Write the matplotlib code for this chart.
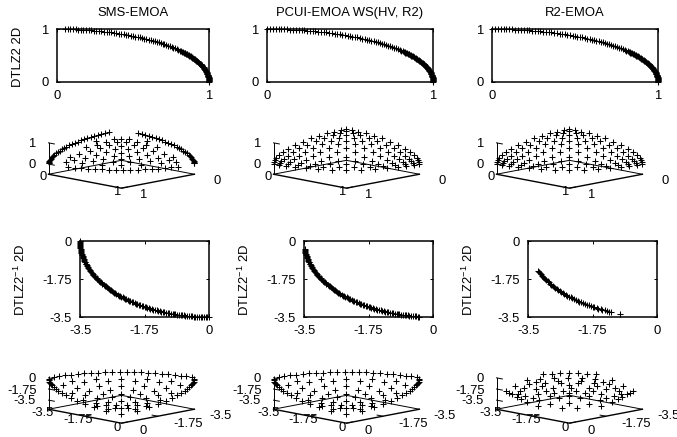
#!/usr/bin/env python3
"""Pareto front approximations of SMS-EMOA, PCUI-EMOA and R2-EMOA on DTLZ2 and DTLZ2^-1."""

import matplotlib
matplotlib.use("Agg")
import matplotlib.pyplot as plt

plt.rcParams["font.family"] = ["Liberation Sans", "DejaVu Sans"]
plt.rcParams["mathtext.fontset"] = "custom"
plt.rcParams["mathtext.rm"] = "Liberation Sans"
plt.rcParams["mathtext.default"] = "regular"
plt.rcParams["axes.unicode_minus"] = False

titles = ["SMS-EMOA", "PCUI-EMOA WS(HV, R2)", "R2-EMOA"]

# DTLZ2 2D front
dtlz2_x = [0.0, .017, .035, .052, .070, .087, .105, .122, .139, .156, .174, .191, .208, .225, .242, .259,
           .276, .292, .309, .326, .342, .358, .375, .391, .407, .423, .438, .454, .469, .485, .500, .515,
           .530, .545, .559, .574, .588, .602, .616, .629, .643, .656, .669, .682, .695, .707, .719, .731,
           .743, .755, .766, .777, .788, .799, .809, .819, .829, .839, .848, .857, .866, .875, .883, .891,
           .899, .906, .914, .921, .927, .934, .940, .946, .951, .956, .961, .966, .970, .974, .978, .982,
           .985, .988, .990, .993, .995, .996, .998, .999, .999, 1.0, 1.0]
dtlz2_y = [1.0, 1.0, .999, .999, .998, .996, .995, .993, .990, .988, .985, .982, .978, .974, .970, .966,
           .961, .956, .951, .946, .940, .934, .927, .921, .914, .906, .899, .891, .883, .875, .866, .857,
           .848, .839, .829, .819, .809, .799, .788, .777, .766, .755, .743, .731, .719, .707, .695, .682,
           .669, .656, .643, .629, .616, .602, .588, .574, .559, .545, .530, .515, .500, .485, .469, .454,
           .438, .423, .407, .391, .375, .358, .342, .326, .309, .292, .276, .259, .242, .225, .208, .191,
           .174, .156, .139, .122, .105, .087, .070, .052, .035, .017, 0.0]
# the crowded end of the same front
dtlz2_end_x = [.824, .834, .843, .853, .862, .870, .879, .887, .895, .903, .910, .917, .924, .930, .937, .943,
               .948, .954, .959, .964, .968, .972, .976, .980, .983, .986, .989, .991, .994, .995, .997, .998,
               .999, 1.0, 1.0]
dtlz2_end_y = [.566, .552, .537, .522, .508, .492, .477, .462, .446, .431, .415, .399, .383, .367, .350, .334,
               .317, .301, .284, .267, .250, .233, .216, .199, .182, .165, .148, .131, .113, .096, .078, .061,
               .044, .026, .009]

# DTLZ2^-1 2D front
inv_x = [-3.50, -3.50, -3.50, -3.49, -3.48, -3.47, -3.46, -3.44, -3.42, -3.40, -3.38, -3.36, -3.33, -3.30,
         -3.27, -3.23, -3.20, -3.16, -3.12, -3.08, -3.03, -2.98, -2.94, -2.89, -2.83, -2.78, -2.72, -2.66,
         -2.60, -2.54, -2.47, -2.41, -2.34, -2.27, -2.20, -2.13, -2.06, -1.98, -1.91, -1.83, -1.75, -1.67,
         -1.59, -1.51, -1.42, -1.34, -1.25, -1.17, -1.08, -0.99, -0.91, -0.82, -0.73, -0.64, -0.55, -0.46,
         -0.37, -0.28, -0.18, -0.09, 0.0]
inv_y = [0.0, -0.09, -0.18, -0.28, -0.37, -0.46, -0.55, -0.64, -0.73, -0.82, -0.91, -0.99, -1.08, -1.17,
         -1.25, -1.34, -1.42, -1.51, -1.59, -1.67, -1.75, -1.83, -1.91, -1.98, -2.06, -2.13, -2.20, -2.27,
         -2.34, -2.41, -2.47, -2.54, -2.60, -2.66, -2.72, -2.78, -2.83, -2.89, -2.94, -2.98, -3.03, -3.08,
         -3.12, -3.16, -3.20, -3.23, -3.27, -3.30, -3.33, -3.36, -3.38, -3.40, -3.42, -3.44, -3.46, -3.47,
         -3.48, -3.49, -3.50, -3.50, -3.50]
inv_mid_x = [-3.50, -3.50, -3.49, -3.49, -3.48, -3.46, -3.45, -3.43, -3.41, -3.39, -3.37, -3.34, -3.31, -3.28,
             -3.25, -3.22, -3.18, -3.14, -3.10, -3.05, -3.01, -2.96, -2.91, -2.86, -2.80, -2.75, -2.69, -2.63,
             -2.57, -2.51, -2.44, -2.38, -2.31, -2.24, -2.17, -2.09, -2.02, -1.94, -1.87, -1.79, -1.71, -1.63,
             -1.55, -1.47, -1.38, -1.30, -1.21, -1.12, -1.04, -0.95, -0.86, -0.77, -0.68, -0.59, -0.50, -0.41,
             -0.32, -0.23, -0.14, -0.05]
inv_mid_y = [-0.05, -0.14, -0.23, -0.32, -0.41, -0.50, -0.59, -0.68, -0.77, -0.86, -0.95, -1.04, -1.12, -1.21,
             -1.30, -1.38, -1.47, -1.55, -1.63, -1.71, -1.79, -1.87, -1.94, -2.02, -2.09, -2.17, -2.24, -2.31,
             -2.38, -2.44, -2.51, -2.57, -2.63, -2.69, -2.75, -2.80, -2.86, -2.91, -2.96, -3.01, -3.05, -3.10,
             -3.14, -3.18, -3.22, -3.25, -3.28, -3.31, -3.34, -3.37, -3.39, -3.41, -3.43, -3.45, -3.46, -3.48,
             -3.49, -3.49, -3.50, -3.50]
r2_inv_x = [-3.22, -3.20, -3.17, -3.15, -3.12, -3.09, -3.06, -3.03, -3.00, -2.97, -2.94, -2.90, -2.87, -2.83,
            -2.80, -2.76, -2.72, -2.68, -2.64, -2.60, -2.56, -2.52, -2.47, -2.43, -2.39, -2.34, -2.30, -2.25,
            -2.20, -2.15, -2.11, -2.06, -2.01, -1.96, -1.91, -1.85, -1.80, -1.75, -1.70, -1.64, -1.59, -1.53,
            -1.48, -1.42, -1.37, -1.31, -1.25, -1.00]
r2_inv_y = [-1.37, -1.42, -1.48, -1.53, -1.59, -1.64, -1.70, -1.75, -1.80, -1.85, -1.91, -1.96, -2.01, -2.06,
            -2.11, -2.15, -2.20, -2.25, -2.30, -2.34, -2.39, -2.43, -2.47, -2.52, -2.56, -2.60, -2.64, -2.68,
            -2.72, -2.76, -2.80, -2.83, -2.87, -2.90, -2.94, -2.97, -3.00, -3.03, -3.06, -3.09, -3.12, -3.15,
            -3.17, -3.20, -3.22, -3.25, -3.27, -3.34]

# DTLZ2 3D, SMS-EMOA: two edge arcs, front arc, inner spokes
sms3_x = [0] * 28 + [
    .999, .998, .995, .990, .982, .970, .956, .940, .921, .899, .875, .848, .819, .788, .755, .719, .682, .643,
    .602, .559, .515, .469, .423, .375, .326, .276, .225,
    .978, .961, .940, .914, .883, .848, .809, .766, .719, .669, .616, .559, .500, .438, .375, .309, .242,
    .907, .811, .691, .547, .367, .847, .758, .646, .511, .343, .731, .653, .557, .441, .295,
    .571, .511, .436, .344, .231, .337, .288, .228, .957, .203, .894, .190,
    .914, .824, .679, .495, .840, .757, .624, .455, .728, .656, .542, .394,
    .611, .551, .455, .331, .446, .402, .332, .242, .262, .237, .195, .142]
sms3_y = [
    .999, .998, .995, .990, .982, .970, .956, .940, .921, .899, .875, .848, .819, .788, .755, .719, .682, .643,
    .602, .559, .515, .469, .423, .375, .326, .276, .225, .174] + [0] * 27 + [
    .208, .276, .342, .407, .469, .530, .588, .643, .695, .743, .788, .829, .866, .899, .927, .951, .970,
    .367, .547, .691, .811, .907, .343, .511, .646, .758, .847, .295, .441, .557, .653, .731,
    .231, .344, .436, .511, .571, .228, .288, .337, .203, .957, .190, .894,
    .262, .237, .195, .142, .446, .402, .332, .242, .611, .551, .455, .331,
    .728, .656, .542, .394, .840, .757, .624, .455, .914, .824, .679, .495]
sms3_z = [
    .035, .070, .105, .139, .191, .242, .292, .342, .391, .438, .485, .530, .574, .616, .656, .695, .731, .766,
    .799, .829, .857, .883, .906, .927, .946, .961, .974, .985,
    .035, .070, .105, .139, .191, .242, .292, .342, .391, .438, .485, .530, .574, .616, .656, .695, .731, .766,
    .799, .829, .857, .883, .906, .927, .946, .961, .974] + [0.0] * 17 + [
    .208, .208, .208, .208, .208, .407, .407, .407, .407, .407, .616, .616, .616, .616, .616,
    .788, .788, .788, .788, .788, .914, .914, .914, .208, .208, .407, .407] + [.309, .515, .707, .857] * 6

# DTLZ2 3D, PCUI-EMOA and R2-EMOA: regular grid over the sphere
grid3_x = [1.0, .997, .986, .965, .928, .874, .8, .707, .6, .486, .371, .263, .164, .077, 0.0,
           .997, .993, .980, .953, .909, .843, .755, .647, .527, .404, .286, .178, .083, 0.0,
           .986, .980, .962, .928, .873, .793, .688, .566, .436, .309, .192, .089, 0.0,
           .965, .953, .928, .883, .814, .717, .598, .465, .331, .206, .095, 0.0,
           .928, .909, .873, .814, .728, .615, .485, .349, .218, .101, 0.0,
           .874, .843, .793, .717, .615, .492, .359, .226, .105, 0.0,
           .8, .755, .688, .598, .485, .359, .229, .108, 0.0,
           .707, .647, .566, .465, .349, .226, .108, 0.0,
           .6, .527, .436, .331, .218, .105, 0.0,
           .486, .404, .309, .206, .101, 0.0,
           .371, .286, .192, .095, 0.0,
           .263, .178, .089, 0.0,
           .164, .083, 0.0,
           .077, 0.0,
           0.0]
grid3_y = [0.0, .077, .164, .263, .371, .486, .6, .707, .8, .874, .928, .965, .986, .997, 1.0,
           0.0, .083, .178, .286, .404, .527, .647, .755, .843, .909, .953, .980, .993, .997,
           0.0, .089, .192, .309, .436, .566, .688, .793, .873, .928, .962, .980, .986,
           0.0, .095, .206, .331, .465, .598, .717, .814, .883, .928, .953, .965,
           0.0, .101, .218, .349, .485, .615, .728, .814, .873, .909, .928,
           0.0, .105, .226, .359, .492, .615, .717, .793, .843, .874,
           0.0, .108, .229, .359, .485, .598, .688, .755, .8,
           0.0, .108, .226, .349, .465, .566, .647, .707,
           0.0, .105, .218, .331, .436, .527, .6,
           0.0, .101, .206, .309, .404, .486,
           0.0, .095, .192, .286, .371,
           0.0, .089, .178, .263,
           0.0, .083, .164,
           0.0, .077,
           0.0]
grid3_z = [0.0] * 15 + [.077, .083, .089, .095, .101, .105, .108, .108, .105, .101, .095, .089, .083, .077,
                        .164, .178, .192, .206, .218, .226, .229, .226, .218, .206, .192, .178, .164,
                        .263, .286, .309, .331, .349, .359, .359, .349, .331, .309, .286, .263,
                        .371, .404, .436, .465, .485, .492, .485, .465, .436, .404, .371,
                        .486, .527, .566, .598, .615, .615, .598, .566, .527, .486,
                        .6, .647, .688, .717, .728, .717, .688, .647, .6,
                        .707, .755, .793, .814, .814, .793, .755, .707,
                        .8, .843, .873, .883, .873, .843, .8,
                        .874, .909, .928, .928, .909, .874,
                        .928, .953, .962, .953, .928,
                        .965, .980, .980, .965,
                        .986, .993, .986,
                        .997, .997,
                        1.0]

# DTLZ2^-1 3D, SMS-EMOA and PCUI-EMOA: top arc, edge arcs, inner spokes
inv3_x = [-3.49, -3.47, -3.42, -3.36, -3.29, -3.20, -3.09, -2.97, -2.83, -2.68, -2.52, -2.34, -2.15, -1.96, -1.75,
          -1.53, -1.31, -1.08, -0.85, -0.61, -0.37, -0.12,
          -3.50, -3.48, -3.46, -3.42, -3.38, -3.33, -3.25, -3.15, -3.03, -2.87, -2.68, -2.43, -2.15, -1.75, -1.31, -0.73,
          0, 0, 0, 0, 0, 0, 0, 0, 0, 0, 0, 0, 0, 0, 0, 0, 0,
          -3.27, -2.93, -2.39, -1.69, -0.88, -2.93, -2.62, -2.14, -1.52, -0.79, -2.39, -2.14, -1.75, -1.24, -0.64,
          -1.69, -1.52, -1.24, -0.88, -0.46, -0.88, -0.78, -0.64, -0.45, -0.24,
          -3.26, -2.77, -2.13, -1.36, -3.05, -2.60, -1.99, -1.27, -2.63, -2.24, -1.72, -1.09,
          -1.98, -1.69, -1.29, -0.82, -1.23, -1.05, -0.81, -0.51, -0.46, -0.39, -0.30, -0.19]
inv3_y = [-0.24, -0.49, -0.73, -0.96, -1.20, -1.42, -1.64, -1.85, -2.06, -2.25, -2.43, -2.60, -2.76, -2.90, -3.03,
          -3.15, -3.25, -3.33, -3.40, -3.45, -3.48, -3.50,
          0, 0, 0, 0, 0, 0, 0, 0, 0, 0, 0, 0, 0, 0, 0, 0,
          -3.50, -3.48, -3.46, -3.42, -3.38, -3.33, -3.25, -3.15, -3.03, -2.87, -2.68, -2.43, -2.15, -1.75, -1.31, -0.73, 0.0,
          -0.88, -0.78, -0.64, -0.45, -0.24, -1.69, -1.52, -1.24, -0.88, -0.46, -2.39, -2.14, -1.75, -1.24, -0.64,
          -2.93, -2.62, -2.14, -1.52, -0.79, -3.27, -2.93, -2.39, -1.69, -0.88,
          -0.46, -0.39, -0.30, -0.19, -1.23, -1.05, -0.81, -0.51, -1.98, -1.69, -1.29, -0.82,
          -2.63, -2.24, -1.72, -1.09, -3.05, -2.60, -1.99, -1.27, -3.26, -2.77, -2.13, -1.36]
inv3_z = [0.0] * 22 + [
    -0.18, -0.37, -0.55, -0.73, -0.91, -1.08, -1.31, -1.53, -1.75, -2.01, -2.25, -2.52, -2.76, -3.03, -3.25, -3.42,
    -0.18, -0.37, -0.55, -0.73, -0.91, -1.08, -1.31, -1.53, -1.75, -2.01, -2.25, -2.52, -2.76, -3.03, -3.25, -3.42, -3.50,
    -0.91, -1.75, -2.47, -3.03, -3.38, -0.91, -1.75, -2.47, -3.03, -3.38, -0.91, -1.75, -2.47, -3.03, -3.38,
    -0.91, -1.75, -2.47, -3.03, -3.38, -0.91, -1.75, -2.47, -3.03, -3.38] + [-1.20, -2.11, -2.76, -3.22] * 6

# DTLZ2^-1 3D, R2-EMOA: central cloud with two short arms
r2inv3_x = [-3.03, -2.87, -2.68, -2.47, -2.25, -2.01, -1.75,
            -3.19, -3.00, -2.75, -2.45, -2.09, -1.70, -1.16,
            -3.15, -3.01, -2.77, -2.45, -2.06, -1.60, -1.09, -0.56,
            -2.90, -2.86, -2.69, -2.40, -2.01, -1.54, -0.99, -0.50, 0.0,
            -2.52, -2.50, -2.37, -2.11, -1.78, -1.37, -0.86, -0.35, 0.0,
            -2.06, -1.99, -1.69, -1.18, -0.53, 0.0,
            -1.53, -1.44, -1.08, -0.52, 0.0,
            -0.83, -0.48,
            -3.03, 0.0, -2.76, 0.0, -2.34, 0.0,
            -3.00, -2.61, -2.04, -1.40,
            -2.96, -2.73, -2.16, -1.39, -0.79,
            -2.71, -2.40, -2.08, -1.75, -1.28, -0.24,
            -2.25, -2.03, -1.63, -1.08, -0.48]
r2inv3_y = [-1.75, -2.01, -2.25, -2.47, -2.68, -2.87, -3.03,
            -1.16, -1.60, -2.00, -2.36, -2.68, -2.94, -3.19,
            -0.56, -1.09, -1.60, -2.06, -2.45, -2.77, -3.01, -3.15,
            0.0, -0.50, -1.09, -1.62, -2.09, -2.46, -2.73, -2.86, -2.90,
            0.0, -0.35, -0.86, -1.37, -1.78, -2.11, -2.37, -2.50, -2.52,
            0.0, -0.53, -1.18, -1.69, -1.99, -2.06,
            0.0, -0.52, -1.08, -1.44, -1.53,
            -0.48, -0.83,
            0.0, -3.03, 0.0, -2.76, 0.0, -2.34,
            -1.40, -2.04, -2.61, -3.00,
            -0.79, -1.39, -2.16, -2.73, -2.96,
            -0.24, -1.28, -1.75, -2.08, -2.40, -2.71,
            -0.48, -1.08, -1.63, -2.03, -2.25]
r2inv3_z = [-0.18] * 7 + [-0.85] * 7 + [-1.42] * 8 + [-1.96] * 9 + [-2.43] * 9 + [-2.83] * 6 + [-3.15] * 5 + [
    -3.36, -3.36, -1.75, -1.75, -2.15, -2.15, -2.60, -2.60] + [-1.14] * 4 + [-1.70] * 5 + [-2.20] * 6 + [-2.64] * 5

W, H = 677, 437
fig = plt.figure(figsize=(W / 100, H / 100), dpi=100)
FS = 9.4
MS = 4.6
MEW = 0.75
COL_SHIFT = [0, 225, 448]


def px_text(x, y, s, **kw):
    fig.text(x / W, 1 - y / H, s, ha=kw.pop("ha", "center"), va="center", fontsize=FS, **kw)


def panel_2d(x0, x1, y0, y1, xs, ys, lim, labels):
    ax = fig.add_axes([x0 / W, 1 - y1 / H, (x1 - x0) / W, (y1 - y0) / H])
    ax.plot(xs, ys, "+", color="black", ms=MS, mew=MEW, clip_on=False)
    ax.set_xlim(lim[0], lim[-1])
    ax.set_ylim(lim[0], lim[-1])
    ax.set_xticks(lim, labels)
    ax.set_yticks(lim, labels)
    ax.tick_params(direction="in", top=True, right=True, length=2.5, width=0.7, pad=6, labelsize=FS)
    for s in ax.spines.values():
        s.set_linewidth(1.1)
    return ax


def panel_3d(cx, cy, xs, ys, zs, xlim, ylim, zlim, xt, yt, zt):
    S = 145
    ax = fig.add_axes([(cx - S / 2) / W, 1 - (cy + S / 2) / H, S / W, S / H], projection="3d")
    ax.set_proj_type("ortho")
    ax.view_init(elev=11, azim=-45)
    ax.set_box_aspect((1, 1, 0.31))
    ax.set_xlim(*xlim)
    ax.set_ylim(*ylim)
    ax.set_zlim(*zlim)
    ax.set_axis_off()
    ax.set_facecolor("none")
    x0, x1 = xlim
    yf, yb = ylim
    zf = zlim[0]
    # floor
    ax.plot([x0, x1, x1], [yf, yf, yb], [zf, zf, zf], color="black", lw=1.0, clip_on=False)
    ax.plot([x0, x0, x1], [yf, yb, yb], [zf, zf, zf], color="black", lw=0.7, clip_on=False)
    # z axis
    ax.plot([x0, x0], [yf, yf], [zf, zlim[1]], color="black", lw=0.7, clip_on=False)
    dx = (x1 - x0) * 0.08
    dy = (yb - yf) * 0.08
    for t in zt:
        ax.plot([x0, x0 + dx], [yf, yf], [t, t], color="black", lw=0.7, clip_on=False)
    for t in xt:
        ax.plot([t, t], [yf, yf + dy], [zf, zf], color="black", lw=0.7, clip_on=False)
    for t in yt:
        ax.plot([x1, x1 - dx], [t, t], [zf, zf], color="black", lw=0.7, clip_on=False)
    ax.plot(xs, ys, zs, "+", color="black", ms=MS, mew=MEW, clip_on=False)
    return ax


# first row
top_edges = [(57, 209), (267, 433), (492, 658)]
top_slices = [3, 0, 0]
for i, (x0, x1) in enumerate(top_edges):
    xs = dtlz2_x[top_slices[i]:] + dtlz2_end_x
    ys = dtlz2_y[top_slices[i]:] + dtlz2_end_y
    ax = panel_2d(x0, x1, 29, 81.5, xs, ys, [0, 1], ["0", "1"])
    ax.set_title(titles[i], fontsize=FS, pad=9.5)
px_text(18, 57, "DTLZ2 2D", rotation=90)

# second row
top3_sets = [(sms3_x, sms3_y, sms3_z), (grid3_x, grid3_y, grid3_z), (grid3_x, grid3_y, grid3_z)]
for i, (xs, ys, zs) in enumerate(top3_sets):
    s = COL_SHIFT[i]
    panel_3d(119.5 + s, 160.5, xs, ys, zs, (0, 1), (1, 0), (-0.48, 1), [1], [], [0, 1])
    for x, y, t in [(32, 144, "1"), (32, 165, "0"), (43, 177, "0"), (117, 192, "1"), (143, 195, "1"), (217, 181, "0")]:
        px_text(x + s, y, t)

# third row
inv_edges = [(80, 209), (304, 433), (528, 657)]
inv_sets = [(inv_x + inv_mid_x, inv_y + inv_mid_y),
            (inv_x[4:57] + inv_mid_x[4:56], inv_y[4:57] + inv_mid_y[4:56]),
            (r2_inv_x, r2_inv_y)]
ylab_x = [20, 244, 468]
for i, (x0, x1) in enumerate(inv_edges):
    panel_2d(x0, x1, 241, 317, inv_sets[i][0], inv_sets[i][1], [-3.5, -1.75, 0], ["-3.5", "-1.75", "0"])
    px_text(ylab_x[i], 280, r"DTLZ2$^{-1}$ 2D", rotation=90)

# fourth row
bot3_sets = [(inv3_x, inv3_y, inv3_z), (inv3_x, inv3_y, inv3_z), (r2inv3_x, r2inv3_y, r2inv3_z)]
for i, (xs, ys, zs) in enumerate(bot3_sets):
    s = COL_SHIFT[i]
    panel_3d(119.5 + s, 395.5, xs, ys, zs, (-3.5, 0), (0, -3.5), (-4.93, 0), [-1.75, 0], [-1.75], [-3.5, -1.75, 0])
    for x, y, t in [(32, 379, "0"), (22, 391, "-1.75"), (24, 401, "-3.5"), (43, 413, "-3.5"), (78, 420, "-1.75"),
                    (117, 428, "0"), (143, 431, "0"), (188, 424, "-1.75"), (220, 416, "-3.5")]:
        px_text(x + s, y, t)

plt.savefig("out.png", dpi=100)
